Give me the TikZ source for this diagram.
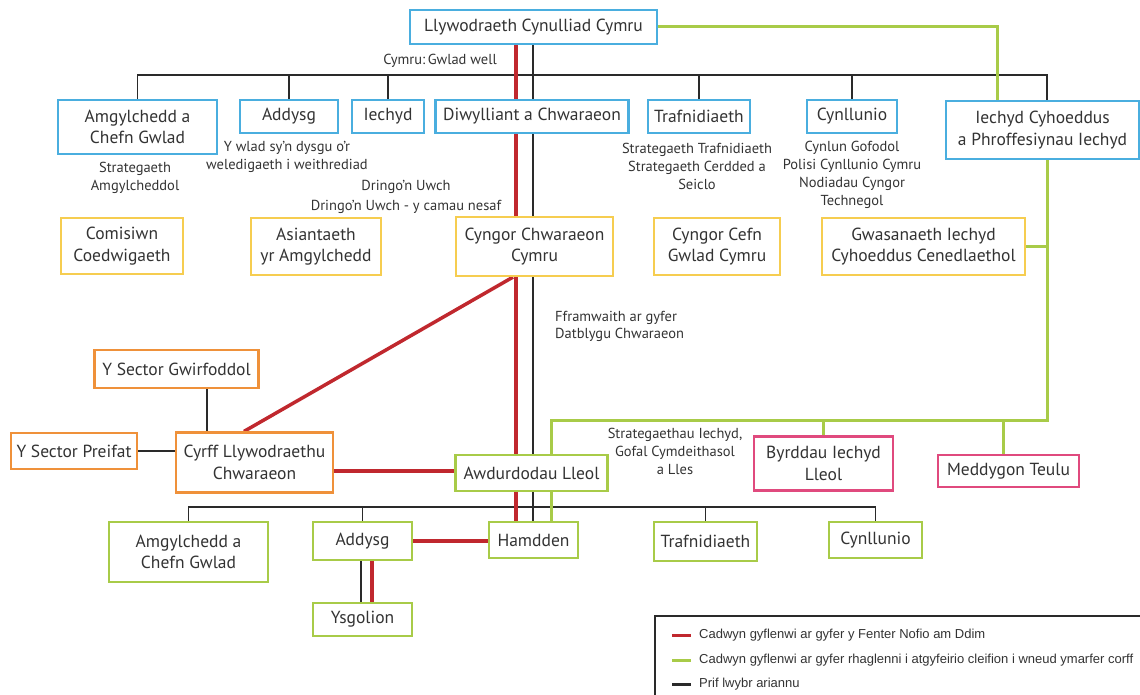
\documentclass[tikz,border=0pt]{standalone}
\usepackage{fontspec}
\setmainfont{PT Sans}
\newfontfamily\legfont{Liberation Sans}
\definecolor{cblue}{HTML}{4AAEDF}
\definecolor{cyel}{HTML}{F6CD50}
\definecolor{corg}{HTML}{EF913A}
\definecolor{cgrn}{HTML}{A8CB48}
\definecolor{cpnk}{HTML}{E04A7E}
\definecolor{cred}{HTML}{C0282E}
\definecolor{cblk}{HTML}{2A2A2A}
\definecolor{ctext}{HTML}{333333}
\pgfdeclarelayer{bg}
\pgfsetlayers{bg,main}
\begin{document}
\begin{tikzpicture}[x=1pt,y=-1pt,
  bx/.style={draw, line width=2.2pt, fill=white, align=center, inner sep=1pt,
     font=\fontsize{17.5}{21.5}\selectfont, text=ctext},
  bl/.style={bx, draw=cblue},
  ye/.style={bx, draw=cyel},
  og/.style={bx, draw=corg},
  gn/.style={bx, draw=cgrn},
  pk/.style={bx, draw=cpnk},
  ann/.style={align=center, font=\fontsize{14.5}{18}\selectfont, text=ctext, inner sep=0pt},
  blkl/.style={line width=1.8pt, draw=cblk},
  redl/.style={line width=3.5pt, draw=cred},
  grnl/.style={line width=3pt, draw=cgrn},
  legt/.style={anchor=west, font=\legfont\fontsize{13}{15}\selectfont, text=ctext, inner sep=0pt}
]
\useasboundingbox (0,0) rectangle (1140,695);
\clip (0,0) rectangle (1140,695);

% reference coordinates
\coordinate (xr) at (516,0);
\coordinate (xb) at (533,0);
\coordinate (xg) at (551,0);
\coordinate (xgt) at (997,0);
\coordinate (xge) at (1047,0);
\coordinate (ybar) at (0,75);
\coordinate (ylow) at (0,507);
\coordinate (ygh) at (0,420);
\coordinate (xgw) at (207,0);
\coordinate (xrc) at (513,0);
\coordinate (xrcy) at (244,0);
\coordinate (yrca) at (0,471);
\coordinate (xay) at (361,0);
\coordinate (xary) at (372,0);
\coordinate (xbyr) at (823,0);
\coordinate (xmed) at (1003,0);

% top
\node[bl, minimum width=247, minimum height=34] (top) at (533.5,27) {Llywodraeth Cynulliad Cymru};
% blue row
\node[bl, minimum width=159, minimum height=54] (amg1) at (137.5,127) {Amgylchedd a\\Chefn Gwlad};
\node[bl, minimum width=98, minimum height=33] (add1) at (289,116.5) {Addysg};
\node[bl, minimum width=72, minimum height=33] (iech) at (388,116.5) {Iechyd};
\node[bl, minimum width=193, minimum height=33] (diw) at (532,116.5) {Diwylliant a Chwaraeon};
\node[bl, minimum width=102, minimum height=33] (traf1) at (699,116.5) {Trafnidiaeth};
\node[bl, minimum width=90, minimum height=33] (cyn1) at (852,116.5) {Cynllunio};
\node[bl, minimum width=193, minimum height=58] (iechc) at (1042.5,130) {Iechyd Cyhoeddus\\a Phroffesiynau Iechyd};

% yellow row
\node[ye, minimum width=122, minimum height=56] (com) at (122,246) {Comisiwn\\Coedwigaeth};
\node[ye, minimum width=130, minimum height=57] (asi) at (316,246.5) {Asiantaeth\\yr Amgylchedd};
\node[ye, minimum width=157, minimum height=59] (cyng) at (534.5,246.5) {Cyngor Chwaraeon\\Cymru};
\node[ye, minimum width=126, minimum height=57] (ccg) at (717,246.5) {Cyngor Cefn\\Gwlad Cymru};
\node[ye, minimum width=203, minimum height=57] (gwas) at (923.5,246.5) {Gwasanaeth Iechyd\\Cyhoeddus Cenedlaethol};

% orange
\node[og, minimum width=164, minimum height=38] (gwir) at (176.5,369) {Y Sector Gwirfoddol};
\node[og, minimum width=126, minimum height=36] (prei) at (74,451) {Y Sector Preifat};
\node[og, minimum width=157, minimum height=60] (cyrff) at (254.5,462.5) {Cyrff Llywodraethu\\Chwaraeon};

% green
\node[gn, minimum width=152, minimum height=36] (awd) at (531.5,473) {Awdurdodau Lleol};
\node[gn, minimum width=89, minimum height=36] (hamd) at (533.5,540) {Hamdden};
\node[gn, minimum width=159, minimum height=60] (amg2) at (188.5,552) {Amgylchedd a\\Chefn Gwlad};
\node[gn, minimum width=99, minimum height=38] (add2) at (362.5,541) {Addysg};
\node[gn, minimum width=99, minimum height=33] (ysg) at (362.5,619.5) {Ysgolion};
\node[gn, minimum width=103, minimum height=39] (traf2) at (705.5,541.5) {Trafnidiaeth};
\node[gn, minimum width=93, minimum height=36] (cyn2) at (875.5,540) {Cynllunio};

% pink
\node[pk, minimum width=139, minimum height=54] (byr) at (823.5,463.5) {Byrddau Iechyd\\Lleol};
\node[pk, minimum width=141, minimum height=32] (medd) at (1008.5,471) {Meddygon Teulu};

% annotations
\node[ann] (a1) at (440,61) {Cymru:\,Gwlad well};
\node[ann] (a2) at (287,157) {Y wlad sy'n dysgu o'r\\weledigaeth i weithrediad};
\node[ann] (a3) at (135,178) {Strategaeth\\Amgylcheddol};
\node[ann, font=\fontsize{14.5}{19.5}\selectfont] (a4) at (406,197) {Dringo'n Uwch\\Dringo'n Uwch - y camau nesaf};
\node[ann] (a5) at (697,166) {Strategaeth Trafnidiaeth\\Strategaeth Cerdded a\\Seiclo};
\node[ann] (a6) at (852,175) {Cynlun Gofodol\\Polisi Cynllunio Cymru\\Nodiadau Cyngor\\Technegol};
\node[ann, align=left, anchor=west, font=\fontsize{14.5}{17}\selectfont] (a7) at (555,326) {Fframwaith ar gyfer\\Datblygu Chwaraeon};
\node[ann] (a8) at (675,451) {Strategaethau Iechyd,\\Gofal Cymdeithasol\\a Lles};

% legend
\draw[line width=1.6pt, draw=cblk] (655,616) rectangle (1142,700);
\coordinate (l1) at (672,635);
\coordinate (l2) at (672,660);
\coordinate (l3) at (672,684);
\draw[line width=3pt, draw=cred] (l1) -- ++(19,0) coordinate (l1e);
\draw[line width=3pt, draw=cgrn] (l2) -- ++(19,0) coordinate (l2e);
\draw[line width=3pt, draw=cblk] (l3) -- ++(19,0) coordinate (l3e);
\node[legt] (t1) at ([xshift=8pt]l1e) {Cadwyn gyflenwi ar gyfer y Fenter Nofio am Ddim};
\node[legt] (t2) at ([xshift=8pt]l2e) {Cadwyn gyflenwi ar gyfer rhaglenni i atgyfeirio cleifion i wneud ymarfer corff};
\node[legt] (t3) at ([xshift=8pt]l3e) {Prif lwybr ariannu};

\begin{pgfonlayer}{bg}
% black funding lines
\draw[blkl] (amg1.north) -- (amg1.north |- ybar) -- (xge |- ybar) -- (xge |- iechc.north);
\draw[blkl] (add1.north) -- (add1.north |- ybar);
\draw[blkl] (iech.north) -- (iech.north |- ybar);
\draw[blkl] (traf1.north) -- (traf1.north |- ybar);
\draw[blkl] (cyn1.north) -- (cyn1.north |- ybar);
\draw[blkl] (top.south -| xb) -- (diw.north -| xb);
\draw[blkl] (diw.south -| xb) -- (cyng.north -| xb);
\draw[blkl] (cyng.south -| xb) -- (awd.north -| xb);
\draw[blkl] (awd.south -| xb) -- (hamd.north -| xb);
\draw[blkl] (amg2.north) -- (amg2.north |- ylow) -- (cyn2.north |- ylow) -- (cyn2.north);
\draw[blkl] (add2.north) -- (add2.north |- ylow);
\draw[blkl] (traf2.north) -- (traf2.north |- ylow);
\draw[blkl] (add2.south -| xay) -- (ysg.north -| xay);
\draw[line width=1.5pt, draw=cblk] (gwir.south -| xgw) -- (cyrff.north -| xgw);
\draw[line width=1.5pt, draw=cblk] (prei.east) -- (cyrff.west |- prei.east);
% red chain
\draw[redl] (top.south -| xr) -- (diw.north -| xr);
\draw[redl] (diw.south -| xr) -- (cyng.north -| xr);
\draw[redl] (cyng.south -| xr) -- (awd.north -| xr);
\draw[redl] (awd.south -| xr) -- (hamd.north -| xr);
\draw[redl] (cyng.south -| xrc) -- (cyrff.north -| xrcy);
\draw[redl] (cyrff.east |- yrca) -- (awd.west |- yrca);
\draw[redl] (add2.east) -- (hamd.west |- add2.east);
\draw[redl] (add2.south -| xary) -- (ysg.north -| xary);
% green chain
\draw[grnl] (top.east) -- (xgt |- top.east) -- (xgt |- iechc.north);
\draw[grnl] (iechc.south -| xge) -- (xge |- ygh) -- (xg |- ygh) -- (awd.north -| xg);
\draw[grnl] (gwas.east) -- (xge |- gwas.east);
\draw[grnl] (xbyr |- ygh) -- (byr.north -| xbyr);
\draw[grnl] (xmed |- ygh) -- (medd.north -| xmed);
\draw[grnl] (awd.south -| xg) -- (hamd.north -| xg);
\end{pgfonlayer}
\end{tikzpicture}
\end{document}
